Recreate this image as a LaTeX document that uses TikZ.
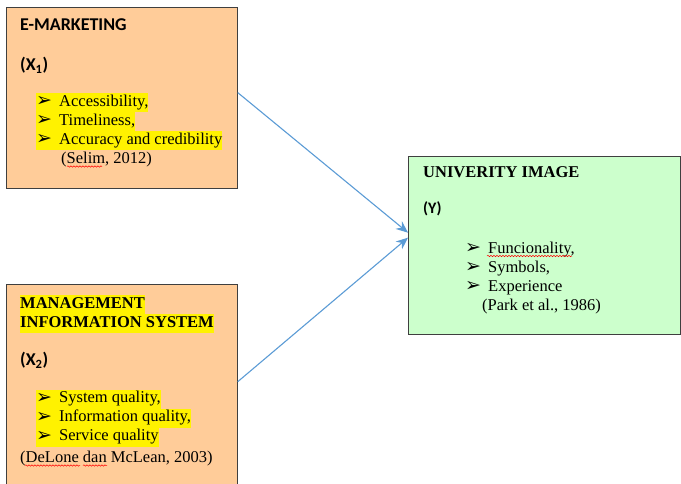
\documentclass[tikz,border=0pt]{standalone}
\usepackage{fontspec}
\setmainfont{Liberation Serif}
\newfontfamily\calib{Carlito}
\newfontfamily\dingfont{DejaVu Sans}
\usetikzlibrary{arrows.meta,decorations.pathmorphing}
\definecolor{tan}{HTML}{FFCC99}
\definecolor{mint}{HTML}{CCFFCC}
\definecolor{linkblue}{HTML}{5B9BD5}
\definecolor{framegray}{HTML}{3F3F3F}
\newcommand{\pointer}{\makebox[23pt][l]{\dingfont\bfseries\fontsize{19}{19}\selectfont\raisebox{-0.5pt}{➢}}}

\tikzset{
    varbox/.style={draw=framegray, line width=1.3pt, anchor=north west, inner sep=0pt},
    txt/.style={anchor=base west, inner sep=0pt, font=\fontsize{16.5}{19}\selectfont},
    hl/.style={txt, fill=yellow, text height=13pt, text depth=6pt},
    tag/.style={anchor=base west, inner sep=0pt, font=\calib\bfseries\fontsize{18}{21}\selectfont},
    link/.style={linkblue, line width=1.1pt, -{Stealth[length=12pt,width=10pt]}},
    spell/.style={red, line width=0.5pt, decorate, decoration={snake, amplitude=0.7pt, segment length=3pt}}
}

\begin{document}
\begin{tikzpicture}[x=1pt,y=-1pt]
        \useasboundingbox (0,0) rectangle (681,483);
        \clip (0,0) rectangle (681,483);

        % boxes
        \node[varbox, fill=tan, minimum width=231pt, minimum height=181pt] (em) at (5.5,7) {};
        \node[varbox, fill=tan, minimum width=231pt, minimum height=216pt] (mis) at (5.5,284) {};
        \node[varbox, fill=mint, minimum width=272pt, minimum height=178pt] (ui) at (408,156) {};

        % e-marketing
        \node[tag] (emtitle) at (20,30.5) {E-MARKETING};
        \node[tag] (emvar) at (20,70.5) {(X\textsubscript{1})};
        \node[hl] (em1) at (36,106) {\pointer Accessibility,};
        \node[hl] (em2) at (36,125) {\pointer Timeliness,};
        \node[hl] (em3) at (36,144) {\pointer Accuracy and credibility};
        \node[txt] (emref) at (61,163) {(Selim, 2012)};
        \draw[spell] (67,166.5) -- (102,166.5);

        % management information system
        \node[hl, font=\bfseries\fontsize{16.5}{19}\selectfont] (mistitle1) at (20,308) {MANAGEMENT};
        \node[hl, font=\bfseries\fontsize{16.5}{19}\selectfont] (mistitle2) at (20,327) {INFORMATION SYSTEM};
        \node[tag] (misvar) at (20,365.5) {(X\textsubscript{2})};
        \node[hl] (mis1) at (36,402.5) {\pointer System quality,};
        \node[hl] (mis2) at (36,421.5) {\pointer Information quality,};
        \node[hl] (mis3) at (36,440.5) {\pointer Service quality};
        \node[txt] (misref) at (20,462) {(DeLone dan McLean, 2003)};
        \draw[spell] (25,465.5) -- (80,465.5);
        \draw[spell] (83,465.5) -- (107,465.5);

        % university image
        \node[txt, font=\bfseries\fontsize{16.5}{19}\selectfont] (uititle) at (423,177) {UNIVERITY IMAGE};
        \node[tag, font=\calib\bfseries\fontsize{16}{19}\selectfont] (uivar) at (423,213) {(Y)};
        \node[txt] (ui1) at (465,253) {\pointer Funcionality,};
        \node[txt] (ui2) at (465,272) {\pointer Symbols,};
        \node[txt] (ui3) at (465,291) {\pointer Experience};
        \node[txt] (uiref) at (482,310) {(Park et al., 1986)};
        \draw[spell] (487,256) -- (572,256);

        % links
        \draw[link] ([yshift=5.5pt]em.east) -- ([yshift=13pt]ui.west);
        \draw[link] ([yshift=11pt]mis.east) -- ([yshift=8pt]ui.west);
\end{tikzpicture}
\end{document}
